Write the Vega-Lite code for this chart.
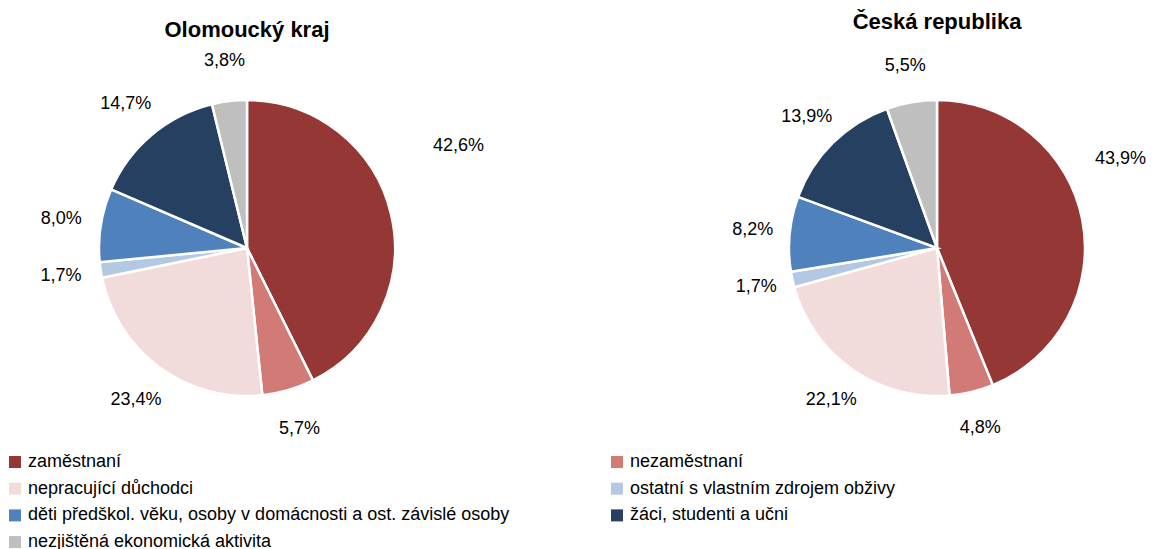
{
  "$schema": "https://vega.github.io/schema/vega-lite/v6.json",
  "padding": {"left": 6, "top": 11, "right": 0, "bottom": 0},
  "datasets": {
    "olomoucky": [
      {"i": 1, "kategorie": "zaměstnaní", "podil": 0.426},
      {"i": 2, "kategorie": "nezaměstnaní", "podil": 0.057},
      {"i": 3, "kategorie": "nepracující důchodci", "podil": 0.234},
      {"i": 4, "kategorie": "ostatní s vlastním zdrojem obživy", "podil": 0.017},
      {"i": 5, "kategorie": "děti předškol. věku, osoby v domácnosti a ost. závislé osoby", "podil": 0.080},
      {"i": 6, "kategorie": "žáci, studenti a učni", "podil": 0.147},
      {"i": 7, "kategorie": "nezjištěná ekonomická aktivita", "podil": 0.038}
    ],
    "cr": [
      {"i": 1, "kategorie": "zaměstnaní", "podil": 0.439},
      {"i": 2, "kategorie": "nezaměstnaní", "podil": 0.048},
      {"i": 3, "kategorie": "nepracující důchodci", "podil": 0.221},
      {"i": 4, "kategorie": "ostatní s vlastním zdrojem obživy", "podil": 0.017},
      {"i": 5, "kategorie": "děti předškol. věku, osoby v domácnosti a ost. závislé osoby", "podil": 0.082},
      {"i": 6, "kategorie": "žáci, studenti a učni", "podil": 0.139},
      {"i": 7, "kategorie": "nezjištěná ekonomická aktivita", "podil": 0.055}
    ]
  },
  "hconcat": [
    {
      "width": 482,
      "height": 404,
      "title": {"text": "Olomoucký kraj"},
      "data": {"name": "olomoucky"},
      "encoding": {
        "theta": {"field": "podil", "type": "quantitative", "stack": true},
        "order": {"field": "i", "type": "quantitative"}
      },
      "layer": [
        {
          "mark": {"type": "arc", "outerRadius": 148, "stroke": "white", "strokeWidth": 2.5},
          "encoding": {
            "color": {
              "field": "kategorie", "type": "nominal",
              "scale": {
                "domain": ["zaměstnaní", "nezaměstnaní", "nepracující důchodci", "ostatní s vlastním zdrojem obživy", "děti předškol. věku, osoby v domácnosti a ost. závislé osoby", "žáci, studenti a učni", "nezjištěná ekonomická aktivita"],
                "range": ["#953735", "#D27A76", "#F2DCDB", "#B3C9E3", "#4F81BD", "#254061", "#BFBFBF"]
              },
              "legend": {"title": null}
            }
          }
        },
        {
          "mark": {"type": "text", "radius": 188, "fontSize": 18, "color": "#000000"},
          "encoding": {
            "text": {"condition": {"test": "datum.i == 1", "value": ""}, "field": "podil", "type": "quantitative", "format": ".1%"}
          }
        },
        {
          "transform": [{"filter": "datum.i == 1"}],
          "mark": {"type": "text", "radius": 235, "thetaOffset": -0.22, "fontSize": 18, "color": "#000000"},
          "encoding": {
            "text": {"field": "podil", "type": "quantitative", "format": ".1%"}
          }
        }
      ]
    },
    {
      "width": 442,
      "height": 404,
      "title": {"text": "Česká republika", "dy": -8},
      "data": {"name": "cr"},
      "encoding": {
        "theta": {"field": "podil", "type": "quantitative", "stack": true},
        "order": {"field": "i", "type": "quantitative"}
      },
      "layer": [
        {
          "mark": {"type": "arc", "outerRadius": 148, "stroke": "white", "strokeWidth": 2.5},
          "encoding": {
            "color": {"field": "kategorie", "type": "nominal"}
          }
        },
        {
          "mark": {"type": "text", "radius": 185, "fontSize": 18, "color": "#000000"},
          "encoding": {
            "text": {"condition": {"test": "datum.i == 1", "value": ""}, "field": "podil", "type": "quantitative", "format": ".1%"}
          }
        },
        {
          "transform": [{"filter": "datum.i == 1"}],
          "mark": {"type": "text", "radius": 204, "thetaOffset": -0.26, "fontSize": 18, "color": "#000000"},
          "encoding": {
            "text": {"field": "podil", "type": "quantitative", "format": ".1%"}
          }
        }
      ]
    }
  ],
  "spacing": 228,
  "resolve": {"scale": {"color": "shared"}},
  "config": {
    "font": "Liberation Sans",
    "view": {"stroke": null},
    "locale": {"number": {"decimal": ",", "thousands": " ", "grouping": [3], "currency": ["", " Kč"], "percent": "%"}},
    "title": {"fontSize": 22, "fontWeight": "bold", "color": "#000000", "anchor": "middle", "offset": 4},
    "legend": {
      "orient": "none",
      "legendX": 0,
      "legendY": 407,
      "columns": 2,
      "direction": "horizontal",
      "symbolType": "square",
      "symbolSize": 144,
      "symbolStrokeWidth": 0,
      "labelFontSize": 18,
      "labelColor": "#000000",
      "labelLimit": 800,
      "labelOffset": 4,
      "rowPadding": 8.7,
      "columnPadding": 98
    }
  }
}
